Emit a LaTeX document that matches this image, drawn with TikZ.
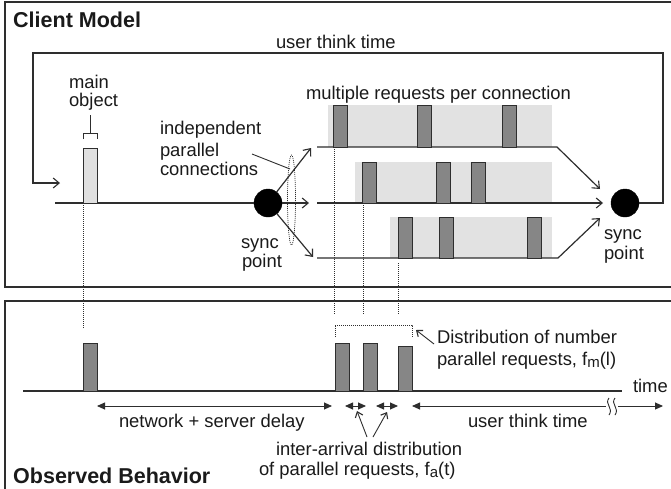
\documentclass[tikz,border=0pt]{standalone}
\usepackage{fontspec}
\setmainfont{Liberation Sans}
\usetikzlibrary{arrows.meta}
\definecolor{lc}{HTML}{2E2E2E}
\definecolor{txtc}{HTML}{1A1A1A}
\definecolor{bgc}{HTML}{E2E2E2}
\definecolor{barc}{HTML}{868686}
\definecolor{mbarc}{HTML}{E0E0E0}
\newcommand{\subl}[1]{\raisebox{-0.3ex}{\fontsize{15}{15}\selectfont #1}}
\tikzset{
  panel/.style={draw=lc, line width=1.3pt},
  ln/.style={draw=lc, line width=1.2pt},
  thinln/.style={draw=lc, line width=0.9pt},
  dotl/.style={draw=lc, line width=0.7pt, dash pattern=on 1pt off 1pt},
  barb/.style={-{Straight Barb[length=6pt,width=10pt,line width=1.1pt]}},
  barbs/.style={-{Straight Barb[length=5pt,width=8pt,line width=1.1pt]}},
  tri/.style={{Triangle[length=8pt,width=7pt]}-{Triangle[length=8pt,width=7pt]}},
  trir/.style={-{Triangle[length=8pt,width=7pt]}},
  txt/.style={anchor=base west, inner sep=0pt, outer sep=0pt, text=txtc, font=\fontsize{18.4}{20}\selectfont},
  ttl/.style={anchor=base west, inner sep=0pt, text=txtc, font=\fontsize{21.5}{23}\selectfont\bfseries},
  bar/.style={draw=lc, fill=barc, line width=0.9pt, minimum width=14pt, inner sep=0pt, outer sep=0pt, anchor=south west},
  mbar/.style={draw=lc, fill=mbarc, line width=0.9pt, minimum width=14pt, inner sep=0pt, outer sep=0pt, anchor=south west},
  sync/.style={circle, fill=black, draw=black, minimum size=28pt, inner sep=0pt, outer sep=0pt},
}
\begin{document}
\begin{tikzpicture}[x=1pt,y=-1pt]
\clip (0,0) rectangle (671,488);
\fill[white] (0,0) rectangle (671,488);
% panels
\draw[panel] (5,2) rectangle (700,287);
\draw[panel] (5,301) rectangle (700,520);
\node[ttl] (cm) at (13,27) {Client Model};
\node[ttl] (ob) at (13,483) {Observed Behavior};

% light backgrounds of connections
\fill[bgc] (328,105) rectangle (552,147);
\fill[bgc] (355,162) rectangle (552,203);
\fill[bgc] (390,217) rectangle (552,258);

% dotted verticals
\draw[dotl] (83,203) -- (83,329);
\draw[dotl] (334,147) -- (334,315);
\draw[dotl] (363,203) -- (363,315);
\draw[dotl] (398,263) -- (398,315);

% sync points
\node[sync] (sL) at (268,203) {};
\node[sync] (sR) at (625,203) {};

% user think time loop
\coordinate (loopR) at (663,203);
\coordinate (loopin) at (60,183);
\draw[ln, barb] (sR.east) -- (loopR) |- (33,53) |- (loopin);
\node[txt] (utt) at (276,48) {user think time};

% main line and main object
\coordinate (mstart) at (55,203);
\draw[ln] (mstart) -- (sL.west);
\node[mbar, minimum height=55pt] (mo) at (83,203) {};
\draw[thinln] (83,139) -- (83,133) -- (97,133) -- (97,139);
\draw[thinln] (90,133) -- (90,115);
\node[txt] (main) at (69,88) {main};
\node[txt] (obj) at (69,106) {object};

% arrows from left sync point
\coordinate (u1) at (311,148);
\coordinate (m1) at (309,203);
\coordinate (d1) at (313,257);
\draw[ln, barb] (sL) -- (u1);
\draw[ln, barb] (sL) -- (m1);
\draw[ln, barb] (sL) -- (d1);
\draw[dotl] (291.5,200) ellipse [x radius=4, y radius=45];
\node[txt] (ind1) at (160,134) {independent};
\node[txt] (ind2) at (160,156) {parallel};
\node[txt] (ind3) at (160,175) {connections};
\draw[thinln] (252,154) -- (290,169);
\node[txt] (syL1) at (241,248) {sync};
\node[txt] (syL2) at (242,267) {point};

% connections
\coordinate (t0) at (317,147); \coordinate (t1) at (557,147); \coordinate (t2) at (600,189);
\coordinate (c0) at (317,203); \coordinate (c2) at (603,203);
\coordinate (b0) at (317,258); \coordinate (b1) at (558,258); \coordinate (b2) at (600,218);
\draw[ln, barb] (t0) -- (t1) -- (t2);
\draw[ln, barb] (c0) -- (c2);
\draw[ln, barb] (b0) -- (b1) -- (b2);
\node[txt] (mrpc) at (306,99) {multiple requests per connection};
\node[txt] (syR1) at (604,239) {sync};
\node[txt] (syR2) at (604,259) {point};

% request bars
\node[bar, minimum height=42pt] (r11) at (333,147) {};
\node[bar, minimum height=42pt] (r12) at (417,147) {};
\node[bar, minimum height=42pt] (r13) at (502,147) {};
\node[bar, minimum height=41pt] (r21) at (362,203) {};
\node[bar, minimum height=41pt] (r22) at (436,203) {};
\node[bar, minimum height=41pt] (r23) at (471,203) {};
\node[bar, minimum height=41pt] (r31) at (398,258) {};
\node[bar, minimum height=41pt] (r32) at (439,258) {};
\node[bar, minimum height=41pt] (r33) at (527,258) {};

% ---------- observed behavior ----------
\coordinate (tl0) at (23,391); \coordinate (tl1) at (622,391);
\draw[ln] (tl0) -- (tl1);
\node[txt] (time) at (633,392) {time};
\node[bar, minimum height=48pt] (o0) at (83,391) {};
\node[bar, minimum height=48pt] (o1) at (335,391) {};
\node[bar, minimum height=48pt] (o2) at (363,391) {};
\node[bar, minimum height=45pt] (o3) at (398,391) {};
\draw[dotl] (335,337) -- (335,325) -- (412,325) -- (412,337);
\coordinate (dA) at (434,344); \coordinate (dB) at (416,330);
\draw[thinln, barbs] (dA) -- (dB);
\node[txt] (dist1) at (437,343) {Distribution of number};
\node[txt] (dist2) at (437,365) {parallel requests, f\subl{m}(l)};

% interval arrows
\coordinate (n0) at (97,406); \coordinate (n1) at (332,406);
\draw[thinln, tri] (n0) -- (n1);
\coordinate (i0) at (345,406); \coordinate (i1) at (366,406);
\draw[thinln, tri] (i0) -- (i1);
\coordinate (j0) at (376,406); \coordinate (j1) at (398,406);
\draw[thinln, tri] (j0) -- (j1);
\coordinate (w0) at (412,406); \coordinate (w1) at (663,406);
\draw[thinln, tri] (w0) -- (w1);
\fill[white] (606,398) rectangle (618,415);
\draw[thinln] (609,398) .. controls (604,404) and (614,408) .. (609,415);
\draw[thinln] (615,398) .. controls (610,404) and (620,408) .. (615,415);
\node[txt] (nsd) at (119,427) {network + server delay};
\node[txt] (utt2) at (468,427) {user think time};
\coordinate (ia0) at (367,437); \coordinate (ia1) at (357,411);
\coordinate (ib0) at (373,437); \coordinate (ib1) at (387,412);
\draw[thinln, barbs] (ia0) -- (ia1);
\draw[thinln, barbs] (ib0) -- (ib1);
\node[txt] (iad1) at (276,455) {inter-arrival distribution};
\node[txt] (iad2) at (259,475) {of parallel requests, f\subl{a}(t)};
\end{tikzpicture}
\end{document}
